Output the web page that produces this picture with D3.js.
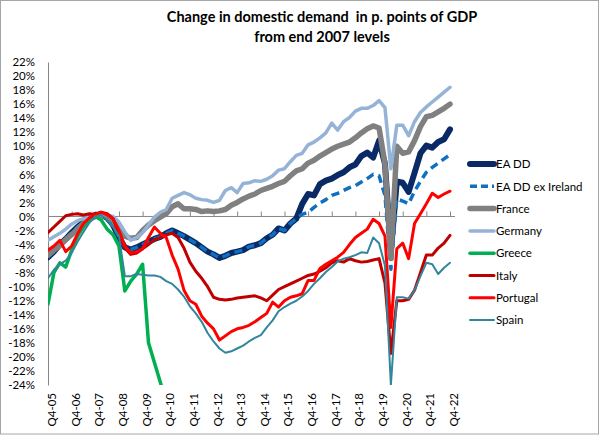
<!DOCTYPE html>
<html><head><meta charset="utf-8">
<script src="https://cdn.jsdelivr.net/npm/d3@7"></script>
<style>
html,body{margin:0;padding:0;background:#fff;}
svg{display:block;font-family:Lato,"Liberation Sans",sans-serif;}
</style></head>
<body>
<svg id="chart" width="600" height="436"></svg>
<script>
const quarters = ["Q4-05","Q1-06","Q2-06","Q3-06","Q4-06","Q1-07","Q2-07","Q3-07","Q4-07","Q1-08","Q2-08","Q3-08","Q4-08","Q1-09","Q2-09","Q3-09","Q4-09","Q1-10","Q2-10","Q3-10","Q4-10","Q1-11","Q2-11","Q3-11","Q4-11","Q1-12","Q2-12","Q3-12","Q4-12","Q1-13","Q2-13","Q3-13","Q4-13","Q1-14","Q2-14","Q3-14","Q4-14","Q1-15","Q2-15","Q3-15","Q4-15","Q1-16","Q2-16","Q3-16","Q4-16","Q1-17","Q2-17","Q3-17","Q4-17","Q1-18","Q2-18","Q3-18","Q4-18","Q1-19","Q2-19","Q3-19","Q4-19","Q1-20","Q2-20","Q3-20","Q4-20","Q1-21","Q2-21","Q3-21","Q4-21","Q1-22","Q2-22","Q3-22","Q4-22"];
const xTickLabels = ["Q4-05","Q4-06","Q4-07","Q4-08","Q4-09","Q4-10","Q4-11","Q4-12","Q4-13","Q4-14","Q4-15","Q4-16","Q4-17","Q4-18","Q4-19","Q4-20","Q4-21","Q4-22"];
const yTicks = [-24,-22,-20,-18,-16,-14,-12,-10,-8,-6,-4,-2,0,2,4,6,8,10,12,14,16,18,20,22];

const eaDD = [-5.8,-5.0,-4.0,-3.2,-2.3,-1.5,-0.8,-0.2,0.2,0.3,-0.2,-1.2,-3.0,-4.4,-4.7,-4.4,-4.0,-3.6,-3.2,-2.9,-2.4,-2.0,-2.4,-2.8,-3.3,-3.8,-4.4,-5.0,-5.4,-5.9,-5.6,-5.2,-5.0,-4.8,-4.3,-4.1,-3.8,-3.1,-2.6,-1.7,-2.0,-1.0,-0.3,1.8,3.2,3.0,4.6,5.1,5.4,5.9,6.3,7.0,7.4,8.6,9.1,8.4,10.8,7.5,-5.0,5.0,4.8,3.5,6.2,9.0,10.1,9.8,10.6,11.0,12.4];
const eaDDexIreland = [-5.8,-5.0,-4.0,-3.2,-2.3,-1.5,-0.8,-0.2,0.2,0.3,-0.2,-1.2,-3.0,-4.4,-4.7,-4.4,-4.0,-3.6,-3.2,-2.9,-2.4,-2.0,-2.4,-2.8,-3.3,-3.8,-4.4,-5.0,-5.4,-5.9,-5.6,-5.2,-5.0,-4.8,-4.3,-4.1,-3.8,-3.1,-2.6,-1.7,-2.0,-1.0,-0.3,0.3,0.6,1.3,1.9,2.4,3.0,3.3,3.7,4.1,4.4,4.9,5.4,6.0,5.8,3.0,-7.5,2.5,2.2,1.8,3.6,5.0,6.3,7.0,7.6,8.2,8.8];
const france = [-5.5,-4.8,-4.1,-3.3,-2.6,-1.8,-1.0,-0.4,0.0,0.2,0.0,-0.5,-2.0,-2.8,-3.1,-3.0,-2.0,-1.2,-0.6,-0.1,0.4,1.4,1.8,1.1,1.1,1.0,0.7,0.8,0.7,0.8,1.0,1.6,2.0,2.5,2.9,3.2,3.7,4.0,4.3,4.7,5.0,5.8,6.5,6.8,7.6,8.0,8.6,9.1,9.6,10.0,10.3,10.6,11.2,11.9,12.5,12.9,12.6,7.5,-6.0,10.0,9.0,9.2,10.8,12.8,14.2,14.4,14.9,15.4,16.0];
const germany = [-3.4,-2.9,-2.4,-1.8,-1.1,-0.6,-0.3,-0.1,0.1,0.3,0.2,0.0,-0.8,-2.2,-3.4,-3.0,-2.3,-1.2,-0.1,0.6,1.0,2.6,3.0,3.4,3.1,2.6,2.4,2.3,2.0,2.3,3.7,4.1,3.4,4.7,4.8,5.1,5.0,5.3,5.8,6.6,6.8,7.8,8.7,9.0,10.2,10.6,11.2,11.9,13.3,12.3,13.5,14.1,15.0,15.4,15.4,15.8,16.5,15.5,6.8,13.0,13.0,11.5,13.5,14.8,15.6,16.3,17.0,17.7,18.4];
const greece = [-12.5,-8.0,-6.6,-7.2,-4.8,-2.8,-1.5,-0.5,0.0,-0.5,-1.8,-2.6,-4.2,-10.6,-9.2,-8.2,-6.8,-18.0,-20.8,-23.6,-26.5,null,null,null,null,null,null,null,null,null,null,null,null,null,null,null,null,null,null,null,null,null,null,null,null,null,null,null,null,null,null,null,null,null,null,null,null,null,null,null,null,null,null,null,null,null,null,null,null];
const italy = [-2.3,-1.5,-0.7,0.1,0.3,0.4,0.2,0.4,0.3,0.6,0.4,-0.3,-2.5,-4.5,-5.4,-5.2,-4.6,-4.0,-3.3,-3.0,-2.6,-2.4,-3.0,-4.5,-6.5,-7.8,-8.8,-10.0,-11.5,-11.8,-11.9,-11.8,-11.6,-11.5,-11.4,-11.3,-11.6,-12.0,-11.2,-10.4,-10.0,-9.6,-9.2,-8.8,-8.4,-8.2,-7.8,-7.3,-6.6,-6.3,-6.5,-6.0,-6.3,-6.5,-6.4,-6.2,-6.0,-9.5,-19.5,-12.0,-12.0,-11.8,-10.5,-8.0,-5.5,-5.5,-4.5,-3.8,-2.7];
const portugal = [-4.8,-4.2,-3.4,-5.0,-4.2,-2.5,-1.0,-0.2,0.3,0.6,0.2,-0.3,-2.0,-4.2,-5.2,-5.0,-4.6,-3.0,-1.5,-2.4,-3.0,-5.5,-7.5,-10.5,-12.0,-12.5,-14.2,-15.2,-16.0,-17.6,-17.0,-16.4,-16.0,-15.8,-15.5,-15.0,-14.4,-13.8,-12.2,-12.9,-12.0,-11.5,-11.3,-11.0,-9.1,-9.1,-7.4,-6.8,-6.3,-5.8,-5.1,-4.0,-3.0,-2.4,-1.8,-0.4,-1.0,-2.8,-15.8,-4.6,-3.8,-6.0,-1.0,0.4,1.8,3.3,2.7,3.2,3.6];
const spain = [-8.8,-7.6,-6.8,-6.3,-5.2,-3.6,-2.2,-0.9,0.0,0.2,-0.5,-1.5,-2.8,-8.5,-8.5,-8.2,-8.3,-8.4,-8.4,-8.6,-9.2,-9.6,-10.4,-11.4,-12.8,-13.8,-15.0,-16.6,-17.8,-18.8,-19.4,-19.2,-18.8,-18.4,-17.8,-17.3,-16.9,-15.8,-14.8,-13.5,-12.9,-12.4,-12.0,-11.4,-10.6,-9.6,-8.8,-7.9,-7.2,-6.4,-6.0,-5.8,-5.5,-5.1,-5.2,-3.0,-3.8,-7.0,-24.0,-11.5,-11.5,-11.7,-10.5,-8.5,-6.6,-6.8,-8.2,-7.3,-6.6];

const seriesNames = ["EA DD","EA DD ex Ireland","France","Germany","Greece","Italy","Portugal","Spain"];
const seriesValues = [eaDD, eaDDexIreland, france, germany, greece, italy, portugal, spain];
const seriesColors = ["#0a2a66","#0f6fc0","#808080","#95b3d7","#00b050","#c00000","#ff0000","#31859c"];
const seriesWidths = [6,3.5,5.5,3.5,3.5,3,3,2];
const seriesDash = [null,"8,5",null,null,null,null,null,null];

const svg = d3.select("#chart");
const W = 600, H = 436;
const plot = {left:48, right:450, top:62, bottom:385};

svg.append("rect").attr("x",0.5).attr("y",0.5).attr("width",W-2).attr("height",H-2.5)
  .attr("fill","#fff").attr("stroke","#a6a6a6").attr("stroke-width",1);

const x = d3.scalePoint().domain(quarters).range([plot.left, plot.right]);
const y = d3.scaleLinear().domain([-24,22]).range([plot.bottom, plot.top]);

const title = svg.append("text").attr("text-anchor","middle")
  .attr("font-weight","bold").attr("font-size",14.5).attr("fill","#000");
title.append("tspan").attr("x",322).attr("y",22).text("Change in domestic demand  in p. points of GDP").style("white-space","pre");
title.append("tspan").attr("x",322).attr("y",42).text("from end 2007 levels");

const yAxis = d3.axisLeft(y).tickValues(yTicks).tickSize(0).tickPadding(13).tickFormat(d => d + "%");
const gy = svg.append("g").attr("transform",`translate(${plot.left},0)`).call(yAxis);
gy.select(".domain").attr("stroke","#868686").attr("stroke-width",1);
gy.selectAll("text").attr("font-size",11.5).attr("fill","#000").attr("font-family","Lato,sans-serif");

const xAxis = d3.axisTop(x).tickValues(xTickLabels).tickSize(5).tickFormat("");
const gx = svg.append("g").attr("transform",`translate(0,${y(0)})`).call(xAxis);
gx.select(".domain").attr("d",`M${plot.left},0H${plot.right+5}`).attr("stroke","#868686").attr("stroke-width",1);
gx.selectAll(".tick line").attr("stroke","#868686");

const gxl = svg.append("g");
gxl.selectAll("text").data(xTickLabels).enter().append("text")
  .attr("transform", d => `translate(${x(d)+8},${plot.bottom+8}) rotate(-90)`)
  .attr("text-anchor","end").attr("font-size",11.5).attr("fill","#000").text(d => d);

svg.append("clipPath").attr("id","clip").append("rect")
  .attr("x",plot.left).attr("y",plot.top-10).attr("width",plot.right-plot.left+10).attr("height",plot.bottom-plot.top+10);

const line = d3.line().defined(d => d.v !== null).x(d => x(d.q)).y(d => y(d.v));
const gl = svg.append("g").attr("clip-path","url(#clip)");
seriesValues.forEach((vals,i) => {
  const data = quarters.map((q,k) => ({q, v: vals[k]}));
  gl.append("path").datum(data).attr("d",line).attr("fill","none")
    .attr("stroke",seriesColors[i]).attr("stroke-width",seriesWidths[i])
    .attr("stroke-linejoin","round").attr("stroke-linecap", seriesDash[i] ? "butt" : "round")
    .attr("stroke-dasharray",seriesDash[i]);
});

const lg = svg.append("g");
seriesNames.forEach((n,i) => {
  const yy = 164 + i*22.3;
  lg.append("line").attr("x1",470).attr("x2",494).attr("y1",yy).attr("y2",yy)
    .attr("stroke",seriesColors[i]).attr("stroke-width",seriesWidths[i])
    .attr("stroke-linecap", seriesDash[i] ? "butt" : "round").attr("stroke-dasharray", seriesDash[i] ? "7,4" : null);
  lg.append("text").attr("x",496).attr("y",yy+4.2).attr("font-size",11.5).attr("fill","#000").text(n);
});
</script>
</body></html>
